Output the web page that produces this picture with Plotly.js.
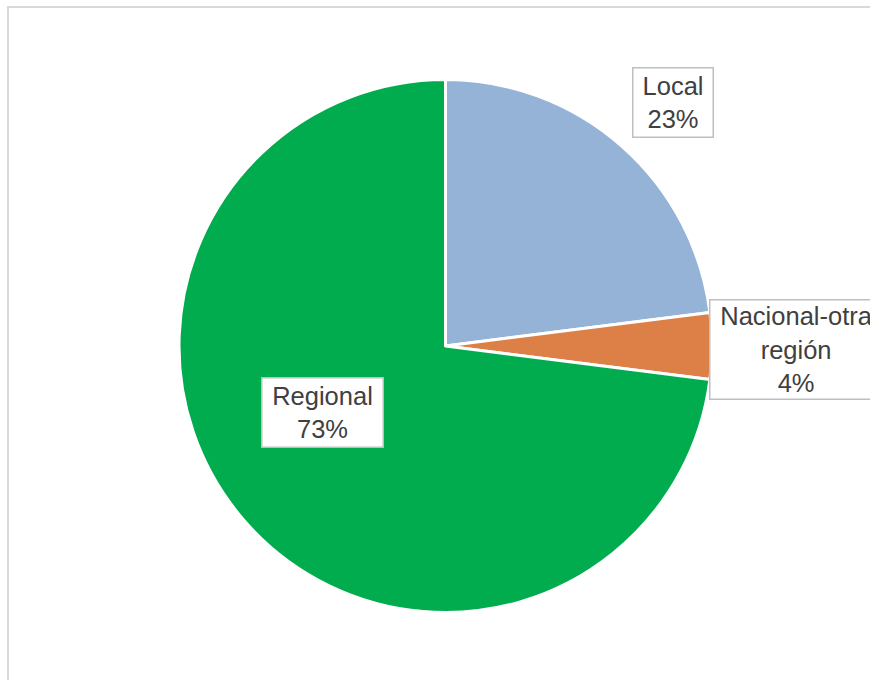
<!DOCTYPE html>
<html>
<head>
<meta charset="utf-8">
<script src="https://cdn.plot.ly/plotly-3.0.1.min.js"></script>
<style>
html,body{margin:0;padding:0;background:#fff;}
#chart{width:870px;height:680px;}
</style>
</head>
<body>
<div id="chart"></div>
<script>
const categories = ["Local", "Nacional-otra región", "Regional"];
const labelLines = ["Local", "Nacional-otra<br>región", "Regional"];
const values = [23, 4, 73];
const percentLabels = ["23%", "4%", "73%"];
const colors = ["#95B3D7", "#DD8047", "#00AC4E"];

const W = 870, H = 680;
function px(x){ return x / W; }
function py(y){ return 1 - y / H; }

// label box centres and inner sizes (pixels)
const labelPos = [[673, 102], [796, 350], [322.5, 412.5]];
const labelSize = [[75, 64], [168, 94], [116, 64]];

const annotations = categories.map((c, i) => ({
  xref: "paper", yref: "paper",
  x: px(labelPos[i][0]), y: py(labelPos[i][1]),
  xanchor: "center", yanchor: "middle",
  text: labelLines[i] + "<br>" + percentLabels[i],
  showarrow: false,
  align: "center",
  valign: "middle",
  width: labelSize[i][0],
  height: labelSize[i][1],
  font: {family: "Liberation Sans, Arial, sans-serif", size: 25.5, color: "#404040"},
  bgcolor: "#ffffff",
  bordercolor: "#bfbfbf",
  borderwidth: 1.5,
  borderpad: 2
}));

const data = [{
  type: "pie",
  labels: categories,
  values: values,
  sort: false,
  direction: "clockwise",
  rotation: 0,
  textinfo: "none",
  hoverinfo: "label+percent",
  marker: {colors: colors, line: {color: "#ffffff", width: 3}},
  domain: {x: [px(179), px(712)], y: [py(613), py(79)]}
}];

const layout = {
  width: W, height: H,
  margin: {l: 0, r: 0, t: 0, b: 0},
  paper_bgcolor: "#ffffff",
  showlegend: false,
  annotations: annotations,
  shapes: [{
    type: "rect", xref: "paper", yref: "paper",
    x0: px(8), x1: 1.05, y0: -0.05, y1: py(7),
    line: {color: "#d9d9d9", width: 2},
    fillcolor: "rgba(0,0,0,0)",
    layer: "below"
  }]
};

Plotly.newPlot("chart", data, layout, {displayModeBar: false, staticPlot: true});
</script>
</body>
</html>
